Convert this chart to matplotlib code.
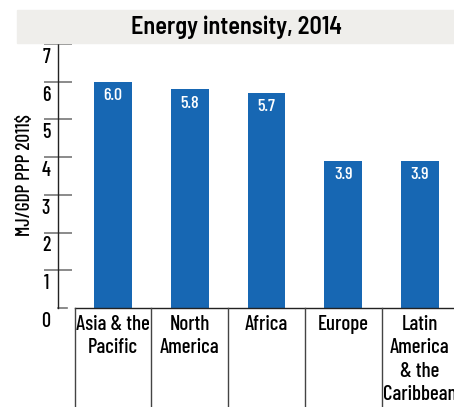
import matplotlib.pyplot as plt

# Data
regions = ["Asia & the\nPacific", "North\nAmerica", "Africa", "Europe",
           "Latin\nAmerica\n& the\nCaribbean"]
intensity = [6.0, 5.8, 5.7, 3.9, 3.9]
yticks = [0, 1, 2, 3, 4, 5, 6, 7]

plt.rcParams["font.family"] = ["Barlow Condensed", "DejaVu Sans"]

blue = "#1767b3"
W, H = 454, 407

fig = plt.figure(figsize=(W / 100, H / 100), dpi=100)
ax = fig.add_axes([58 / W, 99 / H, 396 / W, 264 / H])

x = list(range(len(regions)))
ax.bar(x, intensity, width=0.495, color=blue, zorder=2)
for xi, v in zip(x, intensity):
    ax.annotate(f"{v:.1f}", (xi, v), xytext=(0, -10), textcoords="offset points",
                ha="center", va="center", color="white", fontsize=13, fontweight="medium")

ax.set_xlim(-0.7166, 4.443)
ax.set_ylim(0, 7)

for s in ["top", "right", "bottom"]:
    ax.spines[s].set_visible(False)
ax.spines["left"].set_linewidth(1.0)
ax.spines["left"].set_color("#222222")

# y ticks crossing the axis, labels sit below each tick
ax.set_yticks(yticks[1:])
ax.set_yticklabels([])
ax.tick_params(axis="y", direction="inout", length=20, width=1.2, color="#777777")
ax.set_xticks([])
for v in yticks:
    ax.annotate(str(v), (0, v), xycoords=("axes fraction", "data"),
                xytext=(-8.6, -9.6), textcoords="offset points",
                ha="center", va="center", fontsize=14.5, fontweight="medium")
ax.plot([-0.7166, -0.6], [0, 0], color="#777777", lw=1.2, clip_on=False)

fig.text(25 / W, 1 - 175 / H, "MJ/GDP PPP 2011$", rotation=90, ha="center", va="center",
         fontsize=14, fontweight="medium")

# category boxes under the bars
ax.plot([-0.5, 4.6], [0, 0], color="#222222", lw=1.0, clip_on=False)
for xi in x + [len(regions)]:
    ax.plot([xi - 0.5, xi - 0.5], [0, -2.7], color="#444444", lw=1.0, clip_on=False)
for xi, name in zip(x, regions):
    ax.annotate(name, (xi, 0), xytext=(0, -5), textcoords="offset points",
                ha="center", va="top", fontsize=15, fontweight="medium", linespacing=1.3)

# title band
fig.patches.append(plt.Rectangle((17 / W, 1 - 43 / H), 437 / W, 33 / H,
                                 transform=fig.transFigure, color="#efeeeb", zorder=0))
fig.text(237 / W, 1 - 27 / H, "Energy intensity, 2014", ha="center", va="center",
         fontsize=17.5, fontweight="semibold", family=["Barlow Semi Condensed", "DejaVu Sans"])

fig.savefig("out.png", dpi=100)
